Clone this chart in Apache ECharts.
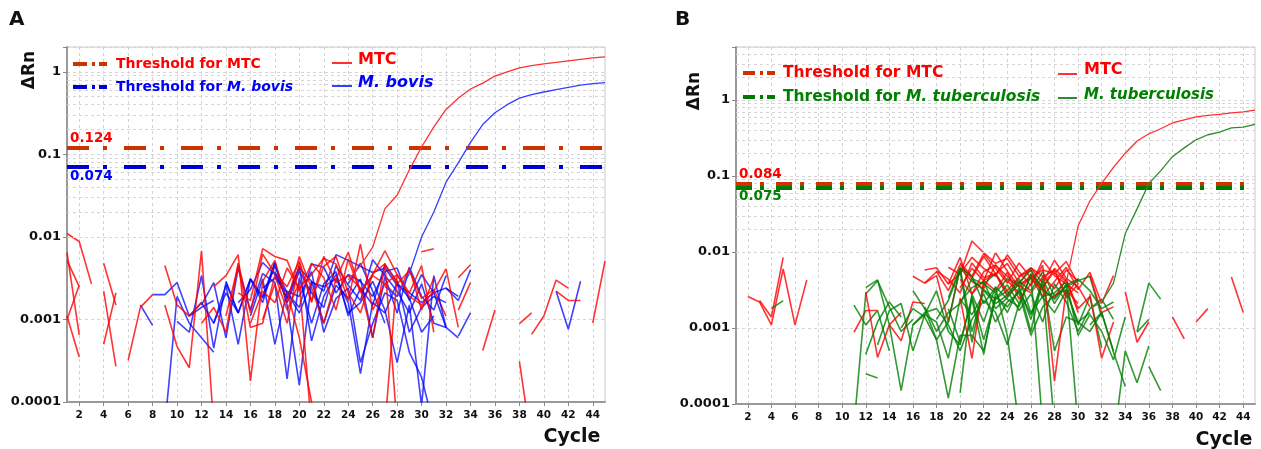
<!DOCTYPE html>
<html><head><meta charset="utf-8">
<script src="https://cdn.jsdelivr.net/npm/echarts@6/dist/echarts.min.js"></script>
<style>html,body{margin:0;padding:0;background:#fff}#c{width:1261px;height:449px}</style>
</head><body><div id="c"></div>
<script>
// ---------- categories / tick labels ----------
const cycles = ['1','2','3','4','5','6','7','8','9','10','11','12','13','14','15','16','17','18','19','20','21','22','23','24','25','26','27','28','29','30','31','32','33','34','35','36','37','38','39','40','41','42','43','44','45'];
const decadeLabels = ['0.0001','0.001','0.01','0.1','1'];

// ---------- thresholds ----------
const thrA_MTC = 0.124, thrA_bovis = 0.074;
const thrB_MTC = 0.084, thrB_tb = 0.075;

// ---------- amplification curves: [startCycle, values] ----------
const ampA_MTC = [24, [0.003,0.0045,0.0075,0.022,0.032,0.065,0.123,0.215,0.35,0.48,0.62,0.73,0.89,1.0,1.12,1.19,1.25,1.3,1.36,1.42,1.48,1.52]];
const ampA_bovis = [27, [0.0025,0.0019,0.0036,0.01,0.02,0.046,0.079,0.14,0.23,0.32,0.40,0.48,0.53,0.57,0.61,0.65,0.69,0.72,0.74]];
const ampB_MTC = [27, [0.004,0.0055,0.004,0.022,0.047,0.08,0.13,0.2,0.29,0.36,0.42,0.50,0.55,0.6,0.63,0.65,0.68,0.70,0.74]];
const ampB_tb = [31, [0.0018,0.0022,0.0039,0.0175,0.037,0.08,0.117,0.18,0.235,0.30,0.35,0.38,0.43,0.44,0.48]];

// ---------- background (negative) traces: [startCycle, values] ----------
const noiseA_red = [
 [1,[0.011,0.0088,0.0027]],
 [1,[0.0052,0.0025]],
 [1,[0.001,0.0026]],
 [1,[0.0011,0.00035]],
 [1,[0.0065,0.00065]],
 [4,[0.0048,0.0015]],
 [4,[0.0022,0.00027]],
 [4,[0.0005,0.0021]],
 [6,[0.00032,0.0014,0.002]],
 [9,[0.0045,0.0015,0.0011,0.0016]],
 [9,[0.0015,0.00047,0.00026,0.0068,0.00005]],
 [12,[0.0009,0.0014,0.0007,0.0048,0.0012,0.0062,0.0036,0.0025,0.0051,0.0017,0.0044,0.0058,0.0021,0.0012,0.0036,0.0047,0.0027,0.0039,0.0018,0.0023,0.0011]],
 [13,[0.0025,0.0034,0.0061,0.00018,0.0029,0.0052,0.0016,0.0058,0.0024,0.0009,0.0031,0.0065,0.0022,0.0034,0.0027,0.0019,0.0042,0.0013,0.0032]],
 [14,[0.0011,0.0045,0.0008,0.0009,0.0034,0.0013,0.0028,0.00005]],
 [15,[0.0021,0.0017,0.0072,0.0058,0.0052,0.0022,0.0048,0.0032,0.0013,0.0054,0.0021,0.0035,0.0068,0.0035,0.0021,0.0045,0.0007]],
 [16,[0.0009,0.0022,0.0016,0.0042,0.0024,0.0035,0.0055,0.0047,0.0017,0.0082,0.0013,0.0027,0.0035]],
 [17,[0.001,0.0027,0.0009,0.0048,0.0016,0.0058,0.0028,0.0034,0.0024,0.0006,0.0048,0.00005]],
 [19,[0.0022,0.0006,0.0001,0.00005]],
 [27,[0.00005,0.0035,0.0019,0.0015,0.0022,0.0041,0.0008]],
 [30,[0.0066,0.0072]],
 [33,[0.0032,0.0046]],
 [33,[0.0013,0.0028]],
 [35,[0.00042,0.0013]],
 [38,[0.00089,0.0012]],
 [38,[0.00031,0.00003]],
 [39,[0.00066,0.0011,0.003,0.0024]],
 [41,[0.0022,0.0017,0.0017]],
 [44,[0.00091,0.0051]]
];
const noiseA_blue = [
 [7,[0.0015,0.00085]],
 [8,[0.002,0.002,0.0028,0.0011,0.0014,0.0017]],
 [9,[0.00005,0.0019,0.0009,0.0006,0.0004]],
 [10,[0.00095,0.0007,0.0034,0.00045,0.0028,0.0012]],
 [11,[0.0011,0.0016,0.0009,0.0026,0.0005,0.0031,0.0019,0.0049,0.0016,0.0038,0.0021,0.0014,0.0045,0.0026,0.0017,0.0053,0.0034,0.0022,0.0012,0.0027,0.0009,0.0008]],
 [12,[0.0015,0.0028,0.0006,0.0042,0.0013,0.0036,0.0028,0.00019,0.0032,0.0009,0.0027,0.0038,0.0011,0.0024,0.0015,0.0046,0.0029,0.0007,0.0014,0.0019,0.0016]],
 [13,[0.0009,0.0021,0.0012,0.0031,0.0018,0.0044,0.0021,0.0014,0.0047,0.0043,0.0021,0.0035,0.0029,0.0019,0.0038,0.0042,0.0017,0.0035,0.0021,0.0024,0.0019]],
 [14,[0.0029,0.0012,0.0031,0.0016,0.0049,0.0015,0.00016,0.0029,0.0009,0.0026,0.0018,0.0031,0.0006,0.0033,0.0012,0.0043,0.0019,0.0013,0.0034]],
 [15,[0.0016,0.0023,0.0049,0.0035,0.0018,0.0042,0.0029,0.0022,0.0061,0.0052,0.0044,0.0037,0.0042,0.0026,0.0021,0.0016,0.0021,0.0008,0.0006]],
 [16,[0.0011,0.0031,0.0005,0.0022,0.0019,0.0038,0.0007,0.0018,0.0024,0.0003,0.0009,0.0021,0.0017,0.0004,0.0002,0.00005]],
 [17,[0.0024,0.0032,0.0021,0.0012,0.0028,0.0025,0.0031,0.0016,0.00022,0.0016,0.0012,0.0028,0.0018,0.0007,0.0011]],
 [18,[0.0038,0.0018,0.0044,0.00055,0.0019,0.0035,0.0012,0.0016,0.0029,0.0013,0.0003,0.0015,0.00009,0.0034,0.0008]],
 [24,[0.0027,0.0048,0.0022,0.0009]],
 [32,[0.0024,0.0017,0.004]],
 [33,[0.00063,0.0012]],
 [41,[0.0022,0.00076,0.0029]]
];
const noiseB_red = [
 [2,[0.0026,0.0022,0.0011,0.006,0.0011,0.0043]],
 [3,[0.0023,0.0014,0.0085]],
 [11,[0.00088,0.0017,0.0017]],
 [12,[0.003,0.00041,0.0011,0.00068,0.0022,0.0021]],
 [14,[0.0011,0.0016]],
 [16,[0.0048,0.0039,0.0055,0.0031,0.0068,0.0045,0.0088,0.0052,0.0071,0.0039,0.0062,0.0048,0.0033,0.0058,0.0041]],
 [17,[0.0058,0.0062,0.0038,0.0052,0.0085,0.0061,0.0048,0.0092,0.0055,0.0036,0.0078,0.0049,0.0038,0.0029]],
 [17,[0.0039,0.0049,0.0012,0.0062,0.0041,0.0033,0.0068,0.0042,0.0029,0.0051,0.0035,0.0056,0.0027,0.0045]],
 [18,[0.0056,0.0044,0.0029,0.0072,0.0046,0.0052,0.0031,0.0047,0.0058,0.0026,0.0041,0.0063,0.0032,0.0054,0.0021,0.0049]],
 [19,[0.0063,0.0051,0.014,0.0098,0.0071,0.0082,0.0048,0.0062,0.0039,0.0078,0.0045,0.0035,0.0019]],
 [19,[0.0038,0.0085,0.0028,0.0042,0.0098,0.0056,0.0035,0.0049,0.0033,0.0061,0.0042,0.0018,0.0026]],
 [20,[0.0072,0.0048,0.0095,0.0061,0.0039,0.0072,0.0046,0.0058,0.0052,0.0075,0.0038]],
 [20,[0.0034,0.0061,0.0042,0.0031,0.0054,0.0024,0.0038,0.0067,0.0002,0.0032,0.0021]],
 [20,[0.0044,0.0028,0.0055,0.0067,0.0048,0.0036,0.0029,0.0047,0.0058,0.0025,0.0038]],
 [20,[0.0025,0.0004,0.0042,0.0052,0.0026,0.0038,0.0045,0.0031,0.0025,0.0044,0.0016]],
 [31,[0.0049,0.0016,0.0019]],
 [31,[0.0028,0.0004,0.0012]],
 [34,[0.003,0.00065,0.0012]],
 [38,[0.0014,0.00072]],
 [40,[0.0012,0.0018]],
 [43,[0.0047,0.0016]]
];
const noiseB_green = [
 [4,[0.0018,0.0023]],
 [11,[0.002,0.0011,0.0017,0.0005]],
 [11,[0.00005,0.0028,0.0042,0.0019,0.0009,0.0013]],
 [12,[0.0034,0.0043,0.0011,0.00015,0.0011,0.0016,0.0018,0.0011,0.0005,0.0013,0.0023,0.0016,0.0006,0.0021]],
 [12,[0.00045,0.0012,0.0022,0.0014]],
 [12,[0.00025,0.00022]],
 [13,[0.0006,0.0017,0.0021,0.0005,0.0015,0.0031,0.0009,0.0006,0.0026,0.0007,0.0024,0.0031,0.0017,0.0028,0.0012,0.0038,0.0022,0.0009,0.0018,0.0024,0.0013]],
 [15,[0.001,0.0018,0.0014,0.0007,0.00012,0.0008,0.0008,0.0005,0.0026,0.0019,0.0031,0.0015,0.0038,0.00005]],
 [16,[0.0011,0.0015,0.0012,0.0004,0.0024,0.0015,0.0028,0.0012,0.0022,0.0029,0.0008,0.0019,0.0027,0.0032,0.0011,0.0026,0.00055]],
 [16,[0.0031,0.0018,0.0007,0.0012,0.0062,0.0009,0.0032,0.0024,0.0037,0.0021,0.0048,0.0025,0.0016,0.0031,0.0012,0.0016]],
 [17,[0.0019,0.0009,0.0016,0.0021,0.0045,0.0038,0.0052,0.0028,0.0041,0.0031,0.0055,0.0026,0.0035,0.0042,0.0048,0.0014]],
 [18,[0.0013,0.0023,0.0058,0.00065,0.0038,0.0029,0.0045,0.0035,0.0013,0.0045,0.0005,0.0014,0.0012,0.0009,0.0016,0.0005]],
 [19,[0.0025,0.0062,0.0048,0.0021,0.0034,0.0008,0.00005]],
 [19,[0.0018,0.00065,0.0024,0.00045,0.0029,0.0016,0.0034,0.0009,0.0044,0.0021,0.0038,0.00005]],
 [20,[0.00014,0.0028,0.0012,0.0035,0.0024,0.0019,0.0052,0.00005]],
 [20,[0.0022,0.0034,0.0041,0.0018,0.0025,0.0039,0.0058,0.0032,0.0024,0.0037,0.0044,0.0031,0.0018,0.0022]],
 [21,[0.0044,0.0031,0.0021,0.0027,0.0045,0.0016,0.0026,0.0029,0.0041,0.0008,0.0015,0.0009,0.00038,0.0014]],
 [31,[0.0011,0.0016,0.00048,0.00017]],
 [33,[0.00003,0.0005,0.00019,0.00058]],
 [35,[0.00088,0.0013]],
 [35,[0.0009,0.0039,0.0024]],
 [36,[0.00031,0.00015]]
];

// ---------- colours ----------
const C = {
  red:'rgba(255,0,0,0.8)', blue:'rgba(0,0,255,0.75)', green:'rgba(0,128,0,0.8)',
  ampRed:'#ff3030', ampBlue:'#3340ff', ampGreen:'#2e8b2e',
  thrMTC:'#cc3300', thrBlue:'#0000cc', thrGreen:'#007a00',
  txtRed:'#ff0000', txtBlue:'#0000ff', txtGreen:'#008000'
};
const FONT = '"DejaVu Sans", Verdana, sans-serif';

const chart = echarts.init(document.getElementById('c'), null, {renderer:'canvas'});

function toData(seg){ const s = seg[0]; return seg[1].map((v,i)=>[String(s+i), v]); }
function lineSeries(seg, gi, color, width, z){
  return {type:'line', xAxisIndex:gi, yAxisIndex:gi, data:toData(seg), symbol:'none', showSymbol:false,
    lineStyle:{color, width}, itemStyle:{color}, z, silent:true, animation:false, emphasis:{disabled:true}};
}
function minorGrid(gi, ymax){
  const d = [];
  for (let e=-4; e<=0; e++) for (let m=2; m<=9; m++){ const v = m*Math.pow(10,e); if (v < ymax) d.push({yAxis:v}); }
  return {type:'line', xAxisIndex:gi, yAxisIndex:gi, data:[], silent:true, z:0, animation:false,
    markLine:{silent:true, symbol:['none','none'], animation:false, label:{show:false},
      lineStyle:{color:'#d6d6d6', width:1, type:[3,3]}, emphasis:{disabled:true}, data:d}};
}
function thrSeries(gi, v, color, dash, labelColor, pos){
  return {type:'line', xAxisIndex:gi, yAxisIndex:gi, data:[], silent:true, z:5, animation:false,
    markLine:{silent:true, symbol:['none','none'], animation:false,
      lineStyle:{color, width:4, type:dash},
      label:{show:true, position:pos, formatter:String(v), color:labelColor, fontFamily:FONT, fontWeight:'bold', fontSize:13.5, distance:[3,2]},
      emphasis:{disabled:true}, data:[{yAxis:v}]}};
}
const evenIdx = (i)=> i % 2 === 1;
function xAxis(gi){
  return {type:'category', gridIndex:gi, data:cycles, boundaryGap:false,
    axisLine:{show:true, lineStyle:{color:'#999', width:2}},
    axisTick:{show:true, interval:evenIdx, length:4, lineStyle:{color:'#888'}},
    axisLabel:{interval:evenIdx, color:'#111', fontFamily:FONT, fontWeight:'bold', fontSize:10.5, margin:8},
    splitLine:{show:true, interval:evenIdx, lineStyle:{color:'#d4d4d4', type:[3,3]}}};
}
function yAxis(gi, ymax){
  return {type:'log', logBase:10, gridIndex:gi, min:0.0001, max:ymax,
    axisLine:{show:true, lineStyle:{color:'#999', width:2}},
    axisTick:{show:true, length:4, lineStyle:{color:'#888'}},
    minorTick:{show:false}, minorSplitLine:{show:false},
    axisLabel:{color:'#111', fontFamily:FONT, fontWeight:'bold', fontSize:13, margin:6, showMaxLabel:true,
      formatter:(v)=>{ const e = Math.log10(v), r = Math.round(e); if (Math.abs(e-r) > 1e-6 || r < -4 || r > 0) return ''; return decadeLabels[r+4]; }},
    splitLine:{show:true, lineStyle:{color:'#d4d4d4', type:[3,3]}}};
}

const series = [];
series.push(minorGrid(0, 2), minorGrid(1, 5));
noiseA_red.forEach((s,i)=>{ series.push(lineSeries(s,0,C.red,1.6,2)); if (noiseA_blue[i]) series.push(lineSeries(noiseA_blue[i],0,C.blue,1.6,2)); });
noiseB_red.forEach((s,i)=>{ series.push(lineSeries(s,1,C.red,1.6,2)); if (noiseB_green[i]) series.push(lineSeries(noiseB_green[i],1,C.green,1.6,2)); });
if (noiseB_green.length > noiseB_red.length) noiseB_green.slice(noiseB_red.length).forEach(s=>series.push(lineSeries(s,1,C.green,1.6,2)));
series.push(thrSeries(0, thrA_MTC, C.thrMTC, [22,14,4,17], C.txtRed, 'insideStartTop'));
series.push(thrSeries(0, thrA_bovis, C.thrBlue, [22,14,4,17], C.txtBlue, 'insideStartBottom'));
series.push(thrSeries(1, thrB_tb, C.thrGreen, [16,8,4,12], C.txtGreen, 'insideStartBottom'));
series.push(thrSeries(1, thrB_MTC, C.thrMTC, [16,8,4,12], C.txtRed, 'insideStartTop'));
series.push(lineSeries(ampA_MTC,0,C.ampRed,1.3,6));
series.push(lineSeries(ampA_bovis,0,C.ampBlue,1.3,6));
series.push(lineSeries(ampB_MTC,1,C.ampRed,1.3,6));
series.push(lineSeries(ampB_tb,1,C.ampGreen,1.3,6));

function txt(x,y,text,font,fill,extra){
  return Object.assign({type:'text', x, y, silent:true, z:20, style:Object.assign({text, font, fill, align:'left', verticalAlign:'middle'}, extra||{})});
}
function seg(x1,x2,y,stroke,w,dash){
  return {type:'line', silent:true, z:20, shape:{x1,y1:y,x2,y2:y}, style:{stroke, lineWidth:w, lineDash:dash||null}};
}
const bold14 = 'bold 14px ' + FONT, bold15 = 'bold 15.5px ' + FONT, bold16 = 'bold 16px ' + FONT;
const graphic = [
  txt(9, 20, 'A', 'bold 20px ' + FONT, '#111'),
  txt(675, 20, 'B', 'bold 20px ' + FONT, '#111'),
  Object.assign(txt(30, 70, 'ΔRn', 'bold 17px ' + FONT, '#111', {align:'center'}), {rotation:Math.PI/2}),
  Object.assign(txt(695, 91, 'ΔRn', 'bold 17px ' + FONT, '#111', {align:'center'}), {rotation:Math.PI/2}),
  txt(572, 437, 'Cycle', 'bold 19px ' + FONT, '#111', {align:'center'}),
  txt(1224, 440, 'Cycle', 'bold 19px ' + FONT, '#111', {align:'center'}),
  // legend A
  seg(73, 107, 64, C.thrMTC, 4, [14,5,3,4,8,100]),
  txt(116, 64, 'Threshold for MTC', bold14, C.txtRed),
  seg(73, 107, 87, C.thrBlue, 4, [14,5,3,4,8,100]),
  txt(116, 87, 'Threshold for {i|M. bovis}', bold14, C.txtBlue, {rich:{i:{font:'italic bold 14px ' + FONT, fill:C.txtBlue}}}),
  seg(332, 352, 63, C.ampRed, 2),
  txt(358, 60, 'MTC', bold16, C.txtRed),
  seg(332, 352, 86, C.ampBlue, 2),
  txt(358, 83, 'M. bovis', 'italic bold 16px ' + FONT, C.txtBlue),
  // legend B
  seg(743, 775, 73, C.thrMTC, 4, [12,5,3,4,8,100]),
  txt(783, 73, 'Threshold for MTC', bold15, C.txtRed),
  seg(743, 775, 97, C.thrGreen, 4, [12,5,3,4,8,100]),
  txt(783, 97, 'Threshold for {i|M. tuberculosis}', bold15, C.txtGreen, {rich:{i:{font:'italic bold 15.5px ' + FONT, fill:C.txtGreen}}}),
  seg(1058, 1077, 74, C.ampRed, 2),
  txt(1084, 70, 'MTC', bold16, C.txtRed),
  seg(1058, 1077, 98, C.ampGreen, 2),
  txt(1084, 95, 'M. tuberculosis', 'italic bold 15px ' + FONT, C.txtGreen)
];

chart.setOption({
  animation:false,
  backgroundColor:'#fff',
  grid:[
    {left:67, top:47, width:538, height:355, show:true, borderColor:'#c8c8c8', borderWidth:1, containLabel:false},
    {left:736, top:47, width:519, height:357, show:true, borderColor:'#c8c8c8', borderWidth:1, containLabel:false}
  ],
  xAxis:[xAxis(0), xAxis(1)],
  yAxis:[yAxis(0, 2), yAxis(1, 5)],
  series,
  graphic
});
</script></body></html>
